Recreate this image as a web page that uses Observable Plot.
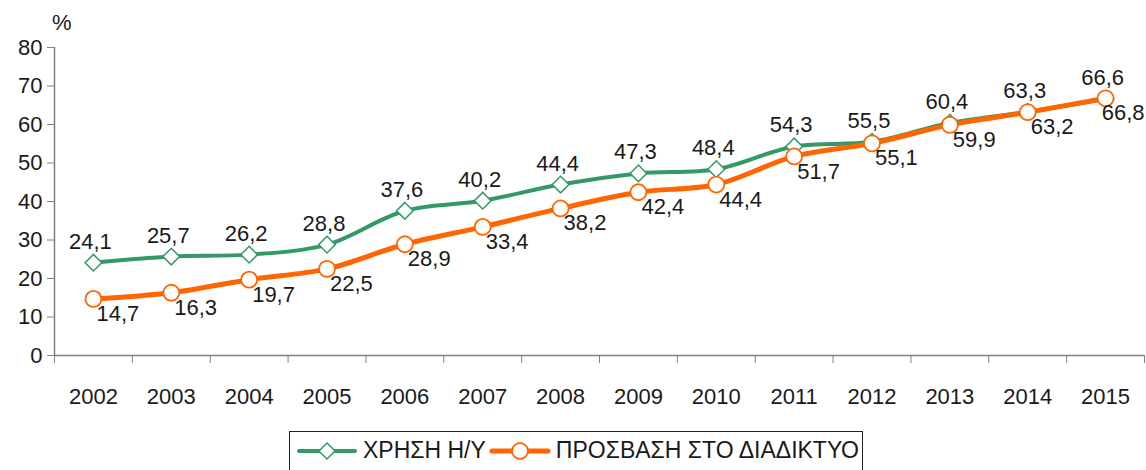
<!DOCTYPE html>
<html>
<head>
<meta charset="utf-8">
<script src="https://cdn.jsdelivr.net/npm/d3@7"></script>
<script src="https://cdn.jsdelivr.net/npm/@observablehq/plot@0.6"></script>
<style>
  body { margin: 0; background: #fff; font-family: "Liberation Sans", Arial, sans-serif; overflow: hidden; }
  #wrap { position: relative; width: 1146px; height: 470px; overflow: hidden; }
  #pct { position: absolute; left: 52px; top: 10px; font-size: 22px; color: #1a1a1a; }
  #legend { position: absolute; left: 289px; top: 431px; width: 574px; height: 45px; border: 1px solid #222; box-sizing: border-box;
            display: flex; align-items: flex-start; padding-top: 5px; font-size: 23px; color: #1a1a1a; padding-left: 6px; white-space: nowrap; }
  #legend .item { display: flex; align-items: center; margin-right: 3px; }
  #legend svg { margin-right: 5px; }
</style>
</head>
<body>
<div id="wrap">
  <div id="chart"></div>
  <div id="pct">%</div>
  <div id="legend"></div>
</div>
<script>
const years = [2002, 2003, 2004, 2005, 2006, 2007, 2008, 2009, 2010, 2011, 2012, 2013, 2014, 2015];
const pcUse = [24.1, 25.7, 26.2, 28.8, 37.6, 40.2, 44.4, 47.3, 48.4, 54.3, 55.5, 60.4, 63.3, 66.6];
const internet = [14.7, 16.3, 19.7, 22.5, 28.9, 33.4, 38.2, 42.4, 44.4, 51.7, 55.1, 59.9, 63.2, 66.8];
const yTicks = [0, 10, 20, 30, 40, 50, 60, 70, 80];
const seriesNames = ["ΧΡΗΣΗ Η/Υ", "ΠΡΟΣΒΑΣΗ ΣΤΟ ΔΙΑΔΙΚΤΥΟ"];
const green = "#339966";
const orange = "#ff6600";

const pcData = years.map((y, i) => ({year: y, value: pcUse[i]}));
const netData = years.map((y, i) => ({year: y, value: internet[i]}));
const netInner = netData.slice(0, -1);
const netLast = netData.slice(-1);
const fmt = v => v.toFixed(1).replace(".", ",");
const bounds = d3.range(years.length + 1).map(i => years[0] - 0.5 + i);

const chart = Plot.plot({
  width: 1146,
  height: 415,
  marginLeft: 54,
  marginRight: 2,
  marginTop: 47,
  marginBottom: 60,
  style: {fontFamily: "Liberation Sans, Arial, sans-serif", fontSize: "22px", color: "#1a1a1a", background: "#fff"},
  x: {domain: [bounds[0], bounds[bounds.length - 1]]},
  y: {domain: [0, 80]},
  marks: [
    Plot.axisY({ticks: yTicks, tickSize: 7, tickPadding: 5, stroke: "#808080", label: null, fill: "#1a1a1a"}),
    Plot.axisX({ticks: bounds, tickSize: 8, tickFormat: () => "", stroke: "#808080", label: null}),
    Plot.axisX({ticks: years, tickSize: 0, tickPadding: 33, tickFormat: d => String(d), label: null, fill: "#1a1a1a"}),
    Plot.ruleX([bounds[0]], {stroke: "#808080", strokeWidth: 1.5}),
    Plot.ruleY([0], {stroke: "#808080", strokeWidth: 1.5}),
    Plot.line(pcData, {x: "year", y: "value", stroke: green, strokeWidth: 4, curve: "catmull-rom"}),
    Plot.line(netData, {x: "year", y: "value", stroke: orange, strokeWidth: 5, curve: "catmull-rom"}),
    Plot.dot(pcData, {x: "year", y: "value", symbol: "diamond2", r: 7.5, fill: "white", stroke: green, strokeWidth: 1.5}),
    Plot.dot(netData, {x: "year", y: "value", symbol: "circle", r: 8, fill: "white", stroke: orange, strokeWidth: 1.8}),
    Plot.text(pcData, {x: "year", y: "value", text: d => fmt(d.value), dx: -3, dy: -21, fill: "#1a1a1a"}),
    Plot.text(netInner, {x: "year", y: "value", text: d => fmt(d.value), textAnchor: "start", dx: 3, dy: 15, fill: "#1a1a1a"}),
    Plot.text(netLast, {x: "year", y: "value", text: d => fmt(d.value), textAnchor: "end", dx: 39, dy: 15, fill: "#1a1a1a"})
  ]
});
document.getElementById("chart").appendChild(chart);

const legend = d3.select("#legend");
const items = [
  {name: seriesNames[0], color: green, sym: "diamond", w: 4},
  {name: seriesNames[1], color: orange, sym: "circle", w: 5}
];
items.forEach(it => {
  const div = legend.append("div").attr("class", "item");
  const s = div.append("svg").attr("width", 62).attr("height", 26);
  s.append("line").attr("x1", 3).attr("x2", 59).attr("y1", 13).attr("y2", 13)
    .attr("stroke", it.color).attr("stroke-width", it.w).attr("stroke-linecap", "round");
  if (it.sym === "diamond") {
    s.append("path").attr("d", "M31,5 L39,13 L31,21 L23,13 Z").attr("fill", "white").attr("stroke", it.color).attr("stroke-width", 1.5);
  } else {
    s.append("circle").attr("cx", 31).attr("cy", 13).attr("r", 8).attr("fill", "white").attr("stroke", it.color).attr("stroke-width", 1.8);
  }
  div.append("span").text(it.name);
});
</script>
</body>
</html>
